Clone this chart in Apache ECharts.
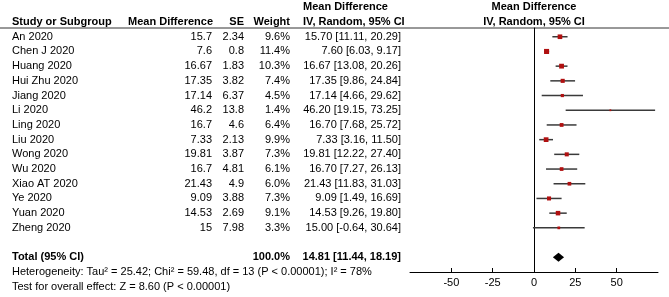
<!DOCTYPE html>
<html>
<head>
<meta charset="utf-8">
<script src="https://cdn.jsdelivr.net/npm/echarts@6/dist/echarts.min.js"></script>
<style>
  html, body { margin: 0; padding: 0; background: #fff; }
  #chart { width: 669px; height: 297px; }
</style>
</head>
<body>
<div id="chart"></div>
<script>
const studies = ['An 2020', 'Chen J 2020', 'Huang 2020', 'Hui Zhu 2020', 'Jiang 2020', 'Li 2020', 'Ling 2020',
    'Liu 2020', 'Wong 2020', 'Wu 2020', 'Xiao AT 2020', 'Ye 2020', 'Yuan 2020', 'Zheng 2020'];
const meanDiff = [15.7, 7.6, 16.67, 17.35, 17.14, 46.2, 16.7, 7.33, 19.81, 16.7, 21.43, 9.09, 14.53, 15];
const se = [2.34, 0.8, 1.83, 3.82, 6.37, 13.8, 4.6, 2.13, 3.87, 4.81, 4.9, 3.88, 2.69, 7.98];
const weight = [9.6, 11.4, 10.3, 7.4, 4.5, 1.4, 6.4, 9.9, 7.3, 6.1, 6.0, 7.3, 9.1, 3.3];
const ciLow = [11.11, 6.03, 13.08, 9.86, 4.66, 19.15, 7.68, 3.16, 12.22, 7.27, 11.83, 1.49, 9.26, -0.64];
const ciHigh = [20.29, 9.17, 20.26, 24.84, 29.62, 73.25, 25.72, 11.50, 27.40, 26.13, 31.03, 16.69, 19.80, 30.64];
const totalEffect = [14.81, 11.44, 18.19]; // md, low, high
const totalWeight = 100;
const axisTicks = [-50, -25, 0, 25, 50];
const heteroText = 'Heterogeneity: Tau\u00b2 = 25.42; Chi\u00b2 = 59.48, df = 13 (P < 0.00001); I\u00b2 = 78%';
const overallText = 'Test for overall effect: Z = 8.60 (P < 0.00001)';

const FONT = 'Arial, "Liberation Sans", sans-serif';
const rowH = 14.7;
const totalRow = studies.length + 1;

function ciText(m, lo, hi) {
    return m.toFixed(2) + ' [' + lo.toFixed(2) + ', ' + hi.toFixed(2) + ']';
}

// table cells: x (px column), row index, text, align, bold
const cells = [];
function cell(x, row, text, align, bold) { cells.push({x, row, text, align, bold}); }

cell(303, -2, 'Mean Difference', 'left', true);
cell(534, -2, 'Mean Difference', 'center', true);
cell(12, -1, 'Study or Subgroup', 'left', true);
cell(213, -1, 'Mean Difference', 'right', true);
cell(244, -1, 'SE', 'right', true);
cell(290, -1, 'Weight', 'right', true);
cell(303, -1, 'IV, Random, 95% CI', 'left', true);
cell(534, -1, 'IV, Random, 95% CI', 'center', true);

studies.forEach((s, i) => {
    cell(12, i, s, 'left', false);
    cell(212, i, String(meanDiff[i]), 'right', false);
    cell(244, i, String(se[i]), 'right', false);
    cell(290, i, weight[i].toFixed(1) + '%', 'right', false);
    cell(401, i, ciText(meanDiff[i], ciLow[i], ciHigh[i]), 'right', false);
});

cell(12, totalRow, 'Total (95% CI)', 'left', true);
cell(290, totalRow, totalWeight.toFixed(1) + '%', 'right', true);
cell(401, totalRow, ciText(totalEffect[0], totalEffect[1], totalEffect[2]), 'right', true);
cell(12, totalRow + 1, heteroText, 'left', false);
cell(12, totalRow + 2, overallText, 'left', false);

const chart = echarts.init(document.getElementById('chart'));

chart.setOption({
    animation: false,
    grid: [
        {left: 0, top: 0, width: 669, height: rowH * 20},
        {left: 410, top: 28, width: 248, height: 244}
    ],
    xAxis: [
        {gridIndex: 0, type: 'value', min: 0, max: 669, show: false},
        {
            gridIndex: 1, type: 'value', min: -75, max: 75, interval: 25,
            axisLine: {onZero: false, lineStyle: {color: '#000', width: 1}},
            axisTick: {inside: true, length: 4, customValues: axisTicks, lineStyle: {color: '#000'}},
            axisLabel: {customValues: axisTicks, color: '#000', fontSize: 11, fontFamily: FONT, margin: 5},
            splitLine: {show: false}
        }
    ],
    yAxis: [
        {gridIndex: 0, type: 'value', min: -2.5, max: 17.5, inverse: true, show: false},
        {
            gridIndex: 1, type: 'value', inverse: true,
            min: 28 / rowH - 2.5, max: 272 / rowH - 2.5,
            axisLine: {show: true, onZero: true, lineStyle: {color: '#000', width: 1}},
            axisTick: {show: false}, axisLabel: {show: false}, splitLine: {show: false}
        }
    ],
    graphic: [{
        type: 'line', shape: {x1: 0, y1: 28, x2: 669, y2: 28},
        style: {stroke: '#333', lineWidth: 1}
    }],
    series: [
        {
            type: 'custom', xAxisIndex: 0, yAxisIndex: 0, clip: false,
            data: cells.map(c => [c.x, c.row]),
            renderItem: function (params, api) {
                const c = cells[params.dataIndex];
                const p = api.coord([api.value(0), api.value(1)]);
                return {
                    type: 'text', x: p[0], y: p[1],
                    style: {
                        text: c.text, fill: '#000', align: c.align, verticalAlign: 'middle',
                        font: (c.bold ? 'bold ' : '') + '11px ' + FONT
                    }
                };
            }
        },
        {
            type: 'custom', xAxisIndex: 1, yAxisIndex: 1, clip: false,
            data: studies.map((s, i) => [i, meanDiff[i], ciLow[i], ciHigh[i], weight[i]]),
            renderItem: function (params, api) {
                const row = api.value(0);
                const c = api.coord([api.value(1), row]);
                const lo = api.coord([api.value(2), row]);
                const hi = api.coord([api.value(3), row]);
                const sz = 1.5 * Math.sqrt(api.value(4));
                return {
                    type: 'group',
                    children: [
                        {type: 'line', shape: {x1: lo[0], y1: lo[1], x2: hi[0], y2: hi[1]},
                            style: {stroke: '#3a3a3a', lineWidth: 1.5}},
                        {type: 'rect', shape: {x: c[0] - sz / 2, y: c[1] - sz / 2, width: sz, height: sz},
                            style: {fill: '#b01010'}}
                    ]
                };
            }
        },
        {
            type: 'custom', xAxisIndex: 1, yAxisIndex: 1, clip: false,
            data: [[totalRow, totalEffect[0], totalEffect[1], totalEffect[2]]],
            renderItem: function (params, api) {
                const row = api.value(0);
                const c = api.coord([api.value(1), row]);
                const lo = api.coord([api.value(2), row]);
                const hi = api.coord([api.value(3), row]);
                const h = 4.5;
                return {
                    type: 'polygon',
                    shape: {points: [[lo[0], lo[1]], [c[0], c[1] - h], [hi[0], hi[1]], [c[0], c[1] + h]]},
                    style: {fill: '#000'}
                };
            }
        }
    ]
});
</script>
</body>
</html>
